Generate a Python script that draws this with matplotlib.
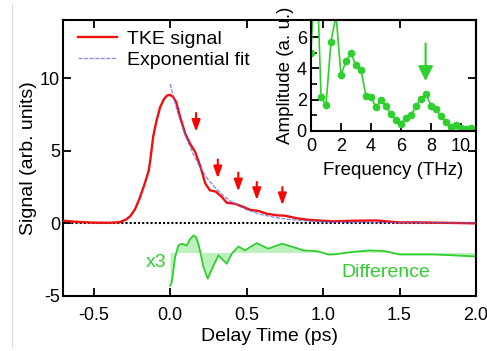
import matplotlib
matplotlib.use("Agg")
import matplotlib.pyplot as plt
from matplotlib.lines import Line2D

plt.rcParams['font.family'] = ['Liberation Sans', 'DejaVu Sans']

# --- datos ---
# señal TKE (ps, unidades arb.)
t_tke = [-0.70, -0.60, -0.50, -0.40, -0.33, -0.29, -0.26, -0.23, -0.20, -0.17,
         -0.14, -0.13, -0.11, -0.09, -0.065, -0.04, -0.02, 0.00, 0.02, 0.04,
         0.065, 0.10, 0.13, 0.165, 0.20, 0.23, 0.26, 0.30, 0.34, 0.37,
         0.42, 0.48, 0.52, 0.58, 0.63, 0.70, 0.75, 0.83, 0.90, 1.00,
         1.07, 1.20, 1.35, 1.50, 1.60, 1.72, 1.85, 2.00]
s_tke = [0.18, 0.10, 0.05, 0.04, 0.08, 0.25, 0.50, 0.95, 1.70, 2.60,
         3.60, 4.30, 6.00, 7.00, 8.00, 8.55, 8.80, 8.85, 8.70, 8.35,
         7.35, 6.15, 5.50, 4.90, 3.85, 2.75, 2.28, 2.18, 1.80, 1.42,
         1.36, 1.13, 0.94, 0.85, 0.67, 0.55, 0.53, 0.35, 0.25, 0.18,
         0.14, 0.18, 0.20, 0.06, 0.07, 0.05, 0.03, 0.00]

# ajuste exponencial
t_fit = [0.00, 0.05, 0.10, 0.15, 0.20, 0.25, 0.30, 0.35, 0.40, 0.45,
         0.50, 0.55, 0.60, 0.70, 0.80, 0.90, 1.00, 1.25, 1.50, 2.00]
s_fit = [9.60, 7.60, 6.05, 4.80, 3.80, 3.00, 2.40, 1.90, 1.50, 1.20,
         0.95, 0.76, 0.60, 0.38, 0.25, 0.16, 0.10, 0.06, 0.05, 0.05]

# diferencia x3 (desplazada a -2)
t_dif = [0.00, 0.011, 0.022, 0.033, 0.054, 0.076, 0.109, 0.13, 0.153, 0.17,
         0.185, 0.20, 0.218, 0.246, 0.279, 0.316, 0.338, 0.37, 0.403, 0.447,
         0.49, 0.566, 0.643, 0.73, 0.806, 0.871, 0.959, 1.035, 1.07, 1.18,
         1.31, 1.405, 1.50, 1.61, 1.72, 1.85, 2.00]
s_dif = [-4.30, -4.05, -3.20, -2.32, -1.52, -1.40, -1.52, -1.10, -0.83, -0.95,
         -1.40, -2.10, -3.01, -3.81, -3.01, -2.20, -2.44, -2.78, -2.09, -1.59,
         -1.86, -1.36, -1.74, -1.40, -1.63, -1.86, -1.91, -2.14, -2.14, -1.98,
         -1.86, -1.91, -2.14, -2.14, -2.14, -2.20, -2.28]
base_dif = -2.0

# flechas rojas: (tiempo, inicio, punta)
t_flechas = [0.17, 0.312, 0.446, 0.567, 0.734]
y_ini_flechas = [7.6, 4.4, 3.5, 2.85, 2.5]
y_fin_flechas = [6.3, 3.1, 2.2, 1.6, 1.25]

# espectro (THz, a. u.)
freq = [0.0, 0.33, 0.67, 1.0, 1.33, 1.67, 2.0, 2.33, 2.67, 3.0, 3.33, 3.67,
        4.0, 4.33, 4.67, 5.0, 5.33, 5.67, 6.0, 6.33, 6.67, 7.0, 7.33, 7.67,
        8.0, 8.33, 8.67, 9.0, 9.33, 9.67, 10.0, 10.33, 10.67, 11.0]
amp = [5.0, 12.0, 2.2, 1.66, 5.7, 7.4, 3.56, 4.47, 4.96, 4.2, 3.93, 2.22,
       2.2, 1.51, 1.99, 1.57, 1.08, 0.71, 0.47, 0.86, 1.04, 1.57, 2.05, 2.37,
       1.62, 1.4, 0.93, 0.58, 0.26, 0.37, 0.17, 0.1, 0.17, 0.1]
f_flecha, a_ini_flecha, a_fin_flecha = 7.64, 5.6, 3.2

rojo = '#ee1111'
azul = '#6060e0'
verde = '#2fcf2f'

fig = plt.figure(figsize=(4.87, 3.51), dpi=100)
# borde gris tenue a la izquierda
fig.add_artist(Line2D([12 / 487, 12 / 487], [0.01, 0.99], color='#dddddd', lw=0.8))

ax = fig.add_axes([63 / 487, 1 - 296 / 351, 413 / 487, 276 / 351])
ax.axhline(0, color='black', ls=(0, (1, 1)), lw=1.5, zorder=1)
ax.fill_between(t_dif, s_dif, base_dif, color='#bdf0bd', lw=0, interpolate=True, zorder=1)
ax.plot(t_dif, s_dif, color=verde, lw=1.3, zorder=2)
ax.plot(t_tke, s_tke, color=rojo, lw=1.7, label='TKE signal', zorder=3)
ax.plot(t_fit, s_fit, color=azul, lw=1.0, ls=(0, (3, 1)), alpha=0.7,
        label='Exponential fit', zorder=4)

for t, y0, y1 in zip(t_flechas, y_ini_flechas, y_fin_flechas):
    ax.annotate('', xy=(t, y1), xytext=(t, y0),
                arrowprops=dict(arrowstyle='-|>,head_length=0.7,head_width=0.25',
                                color='red', lw=1.5, shrinkA=0, shrinkB=0))

ax.text(-0.09, -2.7, 'x3', color=verde, fontsize=14, ha='center', va='center')
ax.text(1.41, -3.38, 'Difference', color=verde, fontsize=14, ha='center', va='center')

ax.set_xlim(-0.7, 2.0)
ax.set_ylim(-5, 14)
ax.set_xticks([-0.5, 0.0, 0.5, 1.0, 1.5, 2.0])
ax.set_xticklabels(['-0.5', '0.0', '0.5', '1.0', '1.5', '2.0'])
ax.set_yticks([-5, 0, 5, 10])
ax.set_yticklabels(['-5', '0', '5', '10'])
ax.tick_params(direction='in', length=6, width=1.3, labelsize=13,
               top=True, right=True)
ax.tick_params(axis='x', pad=8)
ax.tick_params(axis='y', pad=2)
for s in ax.spines.values():
    s.set_linewidth(1.5)
ax.set_xlabel('Delay Time (ps)', fontsize=14, labelpad=3)
ax.set_ylabel('Signal (arb. units)', fontsize=14, labelpad=2)

leg = ax.legend(loc='upper left', bbox_to_anchor=(78 / 487, 1 - 30 / 351),
                bbox_transform=fig.transFigure, frameon=False, fontsize=14,
                borderpad=0, borderaxespad=0, handlelength=2.0,
                handletextpad=0.5, labelspacing=0.2)

# recuadro con el espectro
ins = fig.add_axes([311 / 487, 1 - 131 / 351, 165 / 487, 111 / 351])
ins.patch.set_alpha(0)
ins.plot(freq, amp, color=verde, lw=1.2, marker='o', ms=4.5)
ins.annotate('', xy=(f_flecha, a_fin_flecha), xytext=(f_flecha, a_ini_flecha),
             arrowprops=dict(arrowstyle='-|>,head_length=0.9,head_width=0.45',
                             color=verde, lw=1.5, shrinkA=0, shrinkB=0))
ins.set_xlim(0, 11.0)
ins.set_ylim(0, 7.1)
ins.set_xticks([0, 2, 4, 6, 8, 10])
ins.set_yticks([0, 2, 4, 6])
ins.set_yticks([1, 3, 5], minor=True)
ins.tick_params(direction='in', length=6, width=1.3, labelsize=13)
ins.tick_params(which='minor', direction='in', length=4, width=1.2)
ins.tick_params(axis='x', pad=5)
ins.tick_params(axis='y', pad=3)
for s in ins.spines.values():
    s.set_linewidth(1.5)
ins.set_xlabel('Frequency (THz)', fontsize=13.5, labelpad=5)
ins.set_ylabel('Amplitude (a. u.)', fontsize=13.5, labelpad=2)

fig.savefig('out.png', dpi=100)
